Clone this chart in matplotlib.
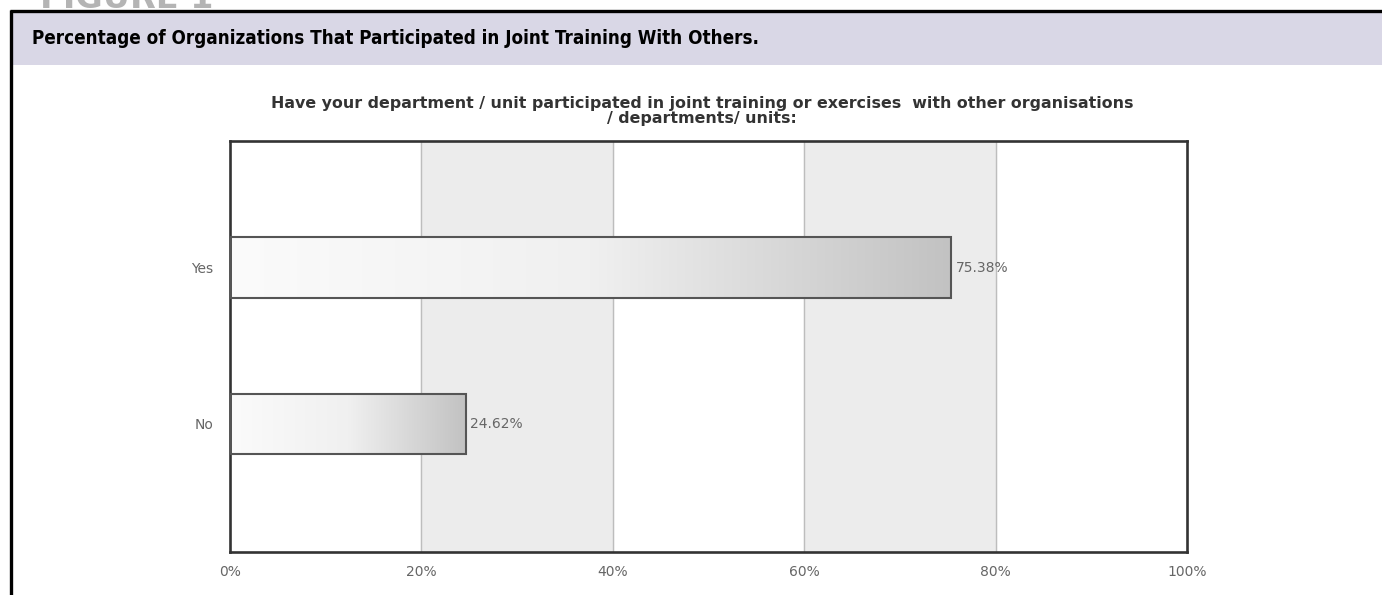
import numpy as np
import matplotlib.pyplot as plt
from matplotlib.colors import LinearSegmentedColormap
from matplotlib.patches import Rectangle

# dados
categorias = ['Yes', 'No']
percentuais = [75.38, 24.62]
ticks_x = [0, 20, 40, 60, 80, 100]
rotulos_x = ['0%', '20%', '40%', '60%', '80%', '100%']

titulo_caixa = 'Percentage of Organizations That Participated in Joint Training With Others.'
titulo_grafico = ('Have your department / unit participated in joint training or exercises  with other organisations\n'
                  '/ departments/ units:')

W, H = 1382, 595
fig = plt.figure(figsize=(W / 100, H / 100), dpi=100)

# fundo em coordenadas de pixel para a moldura
bg = fig.add_axes([0, 0, 1, 1])
bg.set_xlim(0, W)
bg.set_ylim(H, 0)
bg.axis('off')
bg.text(40, 8, 'FIGURE 1', color='#b4b4b4', fontsize=24, fontweight='bold',
        va='baseline', ha='left')
bg.add_patch(Rectangle((13, 12), W - 13, 53, facecolor='#d9d7e6', edgecolor='none'))
bg.plot([10, W], [11, 11], color='black', lw=2.4, solid_capstyle='butt')
bg.plot([11.5, 11.5], [10, H], color='black', lw=2.4, solid_capstyle='butt')
bg.text(32, 39, titulo_caixa, fontsize=13.5, fontweight='bold', fontstretch='condensed',
        va='center', ha='left', color='black')
bg.text(702, 111, titulo_grafico, fontsize=11.4, fontweight='bold', color='#333333',
        ha='center', va='center', linespacing=1.08)

ax = fig.add_axes([230 / W, 1 - 552 / H, (1187 - 230) / W, (552 - 141) / H])

# faixas alternadas e grade
ax.axvspan(20, 40, color='#ececec', zorder=0)
ax.axvspan(60, 80, color='#ececec', zorder=0)
for g in [20, 40, 60, 80]:
    ax.axvline(g, color='#bdbdbd', lw=1, zorder=1)

cmap = LinearSegmentedColormap.from_list('grad', ['#fbfbfb', '#f0f0f0', '#c2c2c2'])
grad = np.linspace(0, 1, 256).reshape(1, -1)
altura = 0.385
pos = np.arange(len(categorias))
for y, v in zip(pos, percentuais):
    ax.imshow(grad, cmap=cmap, aspect='auto', extent=[0, v, y + altura / 2, y - altura / 2], zorder=2)
    ax.barh(y, v, height=altura, fill=False, edgecolor='#555555', lw=1.5, zorder=3)
    ax.text(v + 0.45, y, f'{v:.2f}%', va='center', ha='left', fontsize=10, color='#666666', zorder=4)

ax.set_xlim(0, 100)
ax.set_ylim(1.82, -0.81)
ax.set_yticks(pos)
ax.set_yticklabels(categorias)
ax.set_xticks(ticks_x)
ax.set_xticklabels(rotulos_x)
ax.tick_params(length=0, labelsize=10, labelcolor='#666666')
ax.tick_params(axis='x', pad=9)
ax.tick_params(axis='y', pad=12)
for s in ax.spines.values():
    s.set_color('#333333')
    s.set_linewidth(1.9)

fig.savefig('out.png', dpi=100)
